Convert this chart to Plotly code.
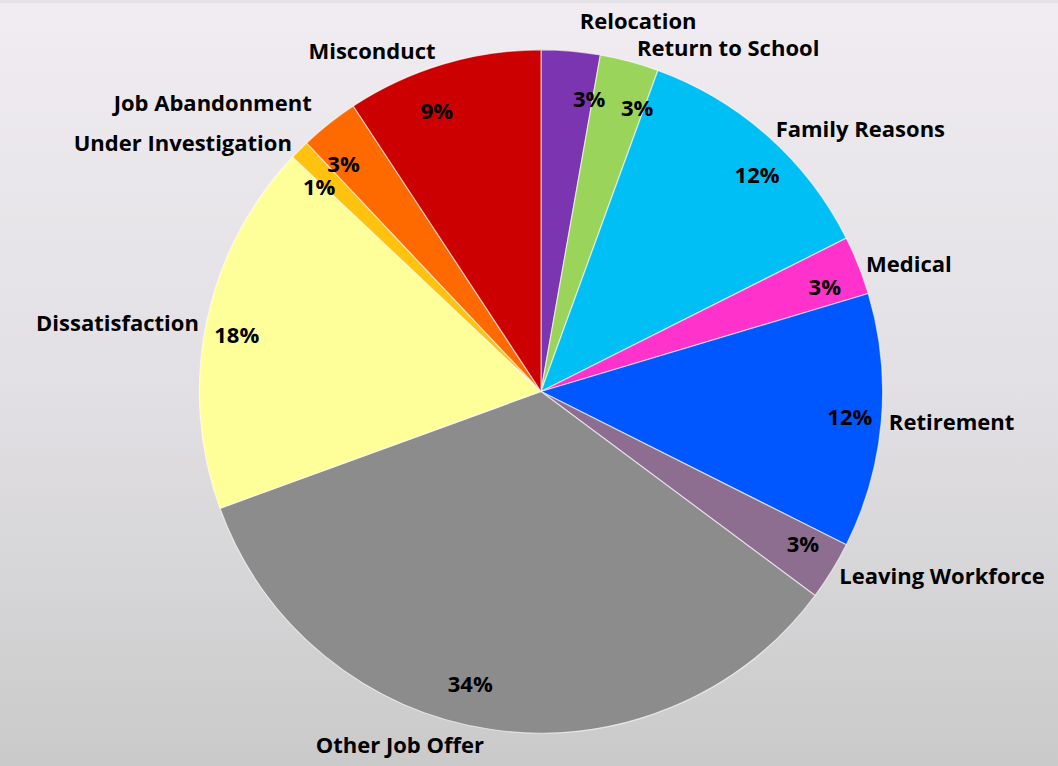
import base64
import plotly.graph_objects as go

# reasons for leaving, clockwise from 12 o'clock
reasons = ["Relocation", "Return to School", "Family Reasons", "Medical", "Retirement",
           "Leaving Workforce", "Other Job Offer", "Dissatisfaction", "Under Investigation",
           "Job Abandonment", "Misconduct"]
counts = [3, 3, 13, 3, 13, 3, 37, 19, 1, 3, 10]
colors = ["#7B35B0", "#9BD45A", "#00BFF5", "#FF33CC", "#0057FF", "#8E6E90",
          "#8C8C8C", "#FFFF99", "#FFC20E", "#FF6A00", "#CC0000"]

W, H = 1058, 766
cx, cy, R = 541, 390, 343

# light grey vertical gradient for the background
svg = ('<svg xmlns="http://www.w3.org/2000/svg" width="10" height="100" preserveAspectRatio="none">'
       '<defs><linearGradient id="g" x1="0" y1="0" x2="0" y2="1">'
       '<stop offset="0" stop-color="#F0ECF1"/><stop offset="0.5" stop-color="#E2E0E4"/>'
       '<stop offset="1" stop-color="#CACACA"/></linearGradient></defs>'
       '<rect width="10" height="100" fill="url(#g)"/></svg>')
bg = "data:image/svg+xml;base64," + base64.b64encode(svg.encode()).decode()


def dom(r):
    return dict(x=[(cx - r) / W, (cx + r) / W], y=[(H - cy - r) / H, (H - cy + r) / H])


font = dict(family="Open Sans", size=22, color="black", weight="bold")
clear = ["rgba(0,0,0,0)"] * len(reasons)


def text_pie(template, pos, r):
    # transparent pie used only to place text around the rim
    return go.Pie(
        labels=reasons, values=counts, sort=False, direction="clockwise", rotation=0,
        marker=dict(colors=clear, line=dict(width=0)),
        texttemplate=template, textposition=pos, outsidetextfont=font,
        hoverinfo="skip", domain=dom(r), showlegend=False,
    )


fig = go.Figure()

# coloured slices
fig.add_trace(go.Pie(
    labels=reasons, values=counts, sort=False, direction="clockwise", rotation=0,
    marker=dict(colors=colors, line=dict(color="rgba(255,255,255,0.6)", width=1.2)),
    textinfo="none", domain=dom(R), showlegend=False,
))

# category names outside the pie; two crowded ones are lifted a little
lifted = ["Relocation", "Job Abandonment"]
fig.add_trace(text_pie("%{label}", ["none" if s in lifted else "outside" for s in reasons], R))
fig.add_trace(text_pie("%{label}", ["outside" if s in lifted else "none" for s in reasons], R + 16))

# percentages near the rim; split in two passes so neighbours don't push each other
for k in (0, 1):
    pos = ["outside" if i % 2 == k else "none" for i in range(len(reasons))]
    fig.add_trace(text_pie("%{percent:.0%}", pos, R - 62))

fig.update_layout(
    width=W, height=H,
    margin=dict(l=0, r=0, t=0, b=0),
    paper_bgcolor="#E4E2E6",
    images=[dict(source=bg, xref="paper", yref="paper", x=0, y=1, sizex=1, sizey=1,
                 sizing="stretch", layer="below", xanchor="left", yanchor="top")],
)

fig.write_html("out.html", config={"displayModeBar": False},
               post_script="document.body.style.margin='0';")
